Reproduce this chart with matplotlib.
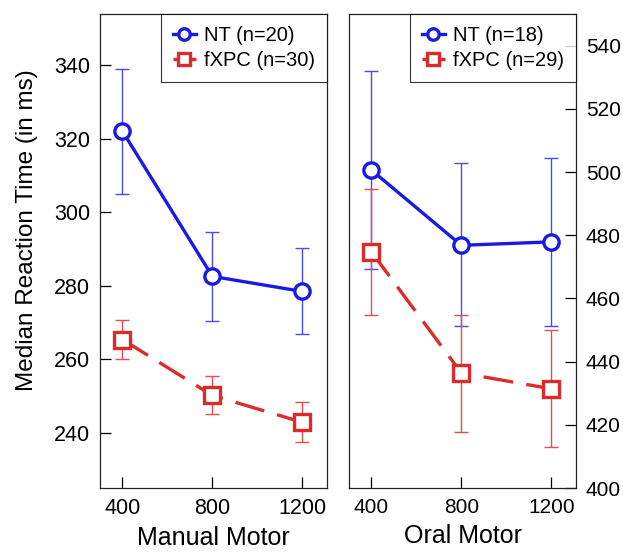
import matplotlib
matplotlib.use("Agg")
import matplotlib.pyplot as plt
import numpy as np

plt.rcParams['font.family'] = ['Liberation Sans', 'DejaVu Sans']

soa = [400, 800, 1200]

# Manual motor (left panel)
man_nt = [322.1, 282.6, 278.5]
man_nt_lo = [305.0, 270.5, 267.0]
man_nt_hi = [339.0, 294.7, 290.3]
man_fx = [265.4, 250.2, 242.9]
man_fx_lo = [260.2, 245.1, 237.6]
man_fx_hi = [270.6, 255.5, 248.3]

# Oral motor (right panel)
oral_nt = [500.6, 476.8, 477.9]
oral_nt_lo = [469.2, 451.3, 451.4]
oral_nt_hi = [532.0, 502.7, 504.5]
oral_fx = [474.7, 436.4, 431.4]
oral_fx_lo = [454.9, 417.7, 412.9]
oral_fx_hi = [494.5, 454.9, 450.1]

blue = '#1a1ae6'
red = '#dd2a2a'

fig = plt.figure(figsize=(6.23, 5.52), dpi=100)
ax1 = fig.add_axes([0.1605, 0.1159, 0.3644, 0.8587])
ax2 = fig.add_axes([0.5602, 0.1159, 0.3644, 0.8587])


def draw(ax, nt, nt_lo, nt_hi, fx, fx_lo, fx_hi, n_nt, n_fx):
    nt = np.array(nt); fx = np.array(fx)
    ax.errorbar(soa, nt, yerr=[nt - np.array(nt_lo), np.array(nt_hi) - nt],
                fmt='none', ecolor='#4a4ae8', elinewidth=1.0, capsize=5, capthick=1.0, zorder=2)
    ax.errorbar(soa, fx, yerr=[fx - np.array(fx_lo), np.array(fx_hi) - fx],
                fmt='none', ecolor='#e05050', elinewidth=1.0, capsize=5, capthick=1.0, zorder=2)
    ax.plot(soa, nt, '-', color=blue, lw=2.4, marker='o', ms=11, mfc='white',
            mec=blue, mew=2.4, label='NT (n=%d)' % n_nt, zorder=3)
    ax.plot(soa, fx, '--', color=red, lw=2.4, dashes=(9, 4), marker='s', ms=11,
            mfc='white', mec=red, mew=2.4, label='fXPC (n=%d)' % n_fx, zorder=3)
    ax.set_xlim(300, 1310)
    ax.set_xticks(soa)
    leg = ax.legend(loc='upper right', fontsize=14.5, frameon=True, fancybox=False,
                    borderaxespad=0, handlelength=1.15, handletextpad=0.4,
                    borderpad=0.6, labelspacing=0.3, markerscale=0.75)
    leg.get_frame().set_edgecolor('black')
    leg.get_frame().set_linewidth(0.8)
    for s in ax.spines.values():
        s.set_linewidth(0.9)
        s.set_color('#222222')


draw(ax1, man_nt, man_nt_lo, man_nt_hi, man_fx, man_fx_lo, man_fx_hi, 20, 30)
draw(ax2, oral_nt, oral_nt_lo, oral_nt_hi, oral_fx, oral_fx_lo, oral_fx_hi, 18, 29)

ax1.set_ylim(225, 354)
ax1.set_yticks([240, 260, 280, 300, 320, 340])
ax1.tick_params(direction='in', length=8, width=0.9, labelsize=15.5, pad=7)
ax1.set_ylabel('Median Reaction Time (in ms)', fontsize=17.5)
ax1.yaxis.set_label_coords(-0.275, 0.545)
ax1.set_xlabel('Manual Motor', fontsize=18, labelpad=5)

ax2.set_ylim(400, 550)
ax2.set_yticks([400, 420, 440, 460, 480, 500, 520, 540])
ax2.yaxis.tick_right()
ax2.tick_params(direction='in', length=8, width=0.9, labelsize=15, pad=7)
ax2.set_xlabel('Oral Motor', fontsize=18, labelpad=5)

fig.savefig('out.png', dpi=100)
